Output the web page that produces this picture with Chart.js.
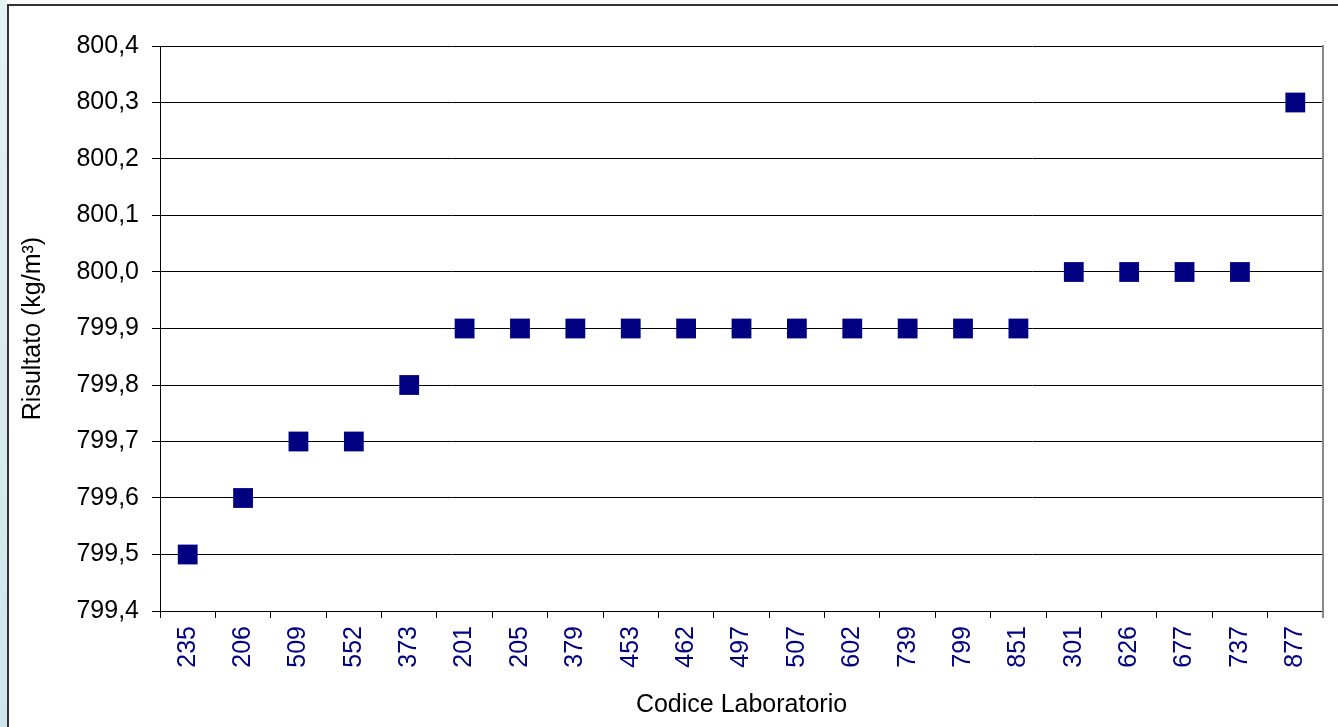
<!DOCTYPE html>
<html>
<head>
<meta charset="utf-8">
<script src="https://cdn.jsdelivr.net/npm/chart.js@4.4.0/dist/chart.umd.min.js"></script>
<style>
  html, body { margin: 0; padding: 0; background: #fff; overflow: hidden; }
  #strip { position: absolute; left: 0; top: 0; width: 7px; height: 727px;
           background: linear-gradient(#e4f1f5, #cfe5ea); }
  #frame { position: absolute; left: 7px; top: 4px; width: 1331px; height: 723px;
           border-top: 2px solid #333; border-left: 2px solid #333; }
  #wrap { width: 1329px; height: 721px; }
</style>
</head>
<body>
<div id="strip"></div>
<div id="frame"><div id="wrap"><canvas id="c"></canvas></div></div>
<script>
// codici laboratorio e risultati
const labs = ['235','206','509','552','373','201','205','379','453','462','497',
              '507','602','739','799','851','301','626','677','737','877'];
const risultati = [799.5, 799.6, 799.7, 799.7, 799.8, 799.9, 799.9, 799.9, 799.9, 799.9, 799.9,
                   799.9, 799.9, 799.9, 799.9, 799.9, 800.0, 800.0, 800.0, 800.0, 800.3];
const yMin = 799.4, yMax = 800.4, yStep = 0.1;

const FONT = '"Liberation Sans", Arial, sans-serif';

// bordo destro grigio dell'area del grafico
const rightBorder = {
    id: 'rightBorder',
    afterDraw(chart) {
        const a = chart.chartArea, ctx = chart.ctx;
        ctx.save();
        ctx.strokeStyle = '#888';
        ctx.lineWidth = 2;
        ctx.beginPath();
        ctx.moveTo(a.right, a.top - 1);
        ctx.lineTo(a.right, a.bottom + 7);
        ctx.stroke();
        ctx.restore();
    }
};

new Chart(document.getElementById('c'), {
    type: 'line',
    data: {
        labels: labs,
        datasets: [{
            data: risultati,
            showLine: false,
            pointStyle: 'rect',
            pointRadius: 14,
            pointHoverRadius: 14,
            pointBackgroundColor: '#000080',
            pointBorderWidth: 0
        }]
    },
    options: {
        responsive: true,
        maintainAspectRatio: false,
        animation: false,
        events: [],
        layout: { padding: { left: 0, right: 15, top: 40, bottom: 0 } },
        plugins: { legend: { display: false }, tooltip: { enabled: false } },
        scales: {
            x: {
                offset: true,
                afterFit: s => { s.height = 116; },
                grid: { offset: true, drawOnChartArea: false, drawTicks: true, tickLength: 7, color: '#000' },
                border: { color: '#000', width: 1 },
                ticks: { color: '#000080', font: { family: FONT, size: 25 }, minRotation: 90, maxRotation: 90, padding: 8, autoSkip: false },
                title: { display: true, text: 'Codice Laboratorio', color: '#000',
                         font: { family: FONT, size: 25 }, padding: { top: 0, bottom: 7 } }
            },
            y: {
                min: yMin,
                max: yMax,
                afterFit: s => { s.width = 151; },
                grid: { color: '#000', tickLength: 8 },
                border: { color: '#000', width: 1 },
                ticks: {
                    stepSize: yStep,
                    color: '#000',
                    padding: 13,
                    font: { family: FONT, size: 25 },
                    callback: v => v.toFixed(1).replace('.', ',')
                },
                title: { display: true, text: 'Risultato (kg/m³)', color: '#000',
                         font: { family: FONT, size: 25 }, padding: { top: 9, bottom: 0 } }
            }
        }
    },
    plugins: [rightBorder]
});
</script>
</body>
</html>
